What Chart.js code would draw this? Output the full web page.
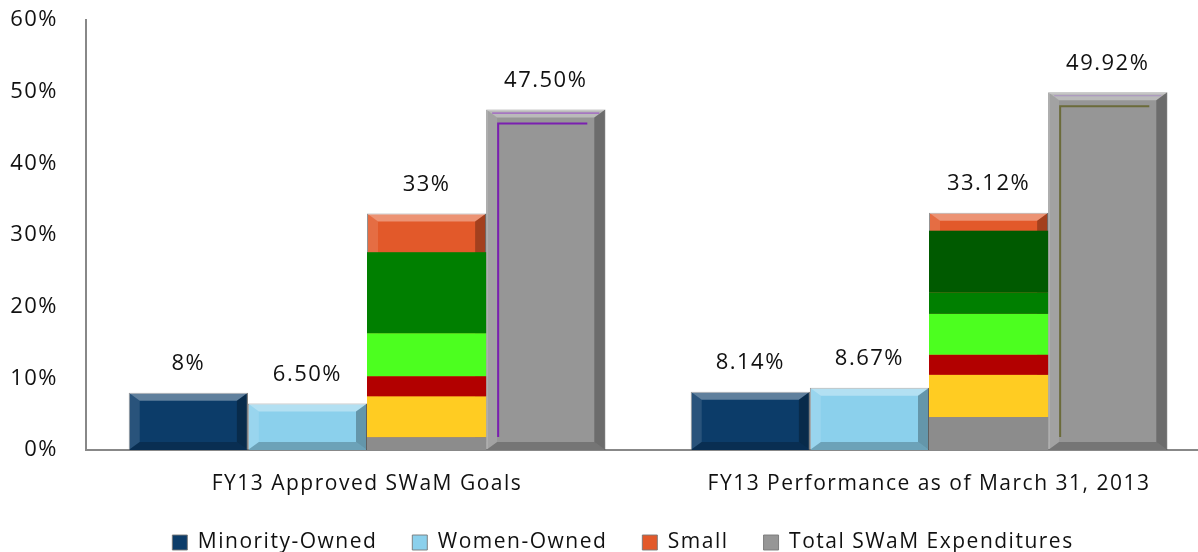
<!DOCTYPE html>
<html>
<head>
<meta charset="utf-8">
<script src="https://cdn.jsdelivr.net/npm/chart.js@4/dist/chart.umd.min.js"></script>
<style>
  html, body { margin: 0; padding: 0; background: #fff; overflow: hidden; }
  #wrap { width: 1212px; height: 563px; }
</style>
</head>
<body>
<div id="wrap"><canvas id="myChart"></canvas></div>
<script>
const categories = ['FY13 Approved SWaM Goals', 'FY13 Performance as of March 31, 2013'];
const minorityOwned = [8, 8.14];
const womenOwned = [6.5, 8.67];
const small = [33, 33.12];
const totalSwam = [47.5, 49.92];
const yTicks = [0, 10, 20, 30, 40, 50, 60];

// odd coloured bands seen inside the "Small" bars (value ranges, bottom->top)
const smallBands = [
  [[0, 1.8, '#8c8c8c'], [1.8, 7.5, '#ffcc22'], [7.5, 10.3, '#b20000'], [10.3, 16.3, '#4cff1f'], [16.3, 27.6, '#007f00']],
  [[0, 4.6, '#8c8c8c'], [4.6, 10.5, '#ffcc22'], [10.5, 13.3, '#b20000'], [13.3, 19.0, '#4cff1f'], [19.0, 22.0, '#007f00'], [22.0, 30.6, '#005a00']]
];

const fontFam = '"Open Sans", "Liberation Sans", sans-serif';

function fmt(v) {
  return Number.isInteger(v) ? v + '%' : v.toFixed(2) + '%';
}

function shade(ctx, pts, color) {
  ctx.beginPath();
  ctx.moveTo(pts[0][0], pts[0][1]);
  for (let i = 1; i < pts.length; i++) ctx.lineTo(pts[i][0], pts[i][1]);
  ctx.closePath();
  ctx.fillStyle = color;
  ctx.fill();
}

// text in the original looks a bit stretched, so open up the letters
const spacing = {
  id: 'spacing',
  beforeLayout(chart) { chart.ctx.letterSpacing = '1.5px'; },
  afterLayout(chart) {
    // legend sits a little right of centre in the original
    chart.legend.left += 18;
    chart.legend.right += 18;
  },
  beforeDraw(chart) { chart.ctx.letterSpacing = '1.5px'; }
};

const bevelPlugin = {
  id: 'bevel',
  afterDatasetsDraw(chart) {
    const ctx = chart.ctx;
    const yScale = chart.scales.y;
    chart.data.datasets.forEach((ds, di) => {
      const meta = chart.getDatasetMeta(di);
      meta.data.forEach((bar, i) => {
        const l = bar.x - bar.width / 2, r = bar.x + bar.width / 2;
        const t = bar.y, b = bar.base;
        const bx = Math.min(11, bar.width / 4), by = Math.min(8, (b - t) / 4);
        ctx.save();
        shade(ctx, [[l, t], [r, t], [r - bx, t + by], [l + bx, t + by]], 'rgba(255,255,255,0.35)');
        shade(ctx, [[l, t], [l + bx, t + by], [l + bx, b - by], [l, b]], 'rgba(255,255,255,0.12)');
        shade(ctx, [[r, t], [r, b], [r - bx, b - by], [r - bx, t + by]], 'rgba(0,0,0,0.28)');
        shade(ctx, [[l, b], [l + bx, b - by], [r - bx, b - by], [r, b]], 'rgba(0,0,0,0.22)');
        if (di === 2) {
          smallBands[i].forEach(([lo, hi, c]) => {
            const y1 = yScale.getPixelForValue(hi), y0 = yScale.getPixelForValue(lo);
            ctx.fillStyle = c;
            ctx.fillRect(l, y1, r - l, y0 - y1);
          });
        }
        if (di === 3) {
          ctx.strokeStyle = i === 0 ? '#7a1fb0' : '#6b6b3a';
          ctx.lineWidth = 2;
          ctx.beginPath();
          ctx.moveTo(l + 12, b - 13);
          ctx.lineTo(l + 12, t + 14);
          ctx.lineTo(r - 18, t + 14);
          ctx.stroke();
          ctx.lineWidth = 1;
          ctx.strokeStyle = i === 0 ? 'rgba(140,40,200,0.8)' : 'rgba(160,120,200,0.6)';
          ctx.beginPath();
          ctx.moveTo(l + 6, t + 3.5);
          ctx.lineTo(r - 6, t + 3.5);
          ctx.stroke();
        }
        ctx.restore();
      });
    });
  }
};

const valueLabels = {
  id: 'valueLabels',
  afterDatasetsDraw(chart) {
    const ctx = chart.ctx;
    ctx.save();
    ctx.font = '22px ' + fontFam;
    ctx.fillStyle = '#111';
    ctx.textAlign = 'center';
    ctx.textBaseline = 'middle';
    chart.data.datasets.forEach((ds, di) => {
      chart.getDatasetMeta(di).data.forEach((bar, i) => {
        ctx.fillText(fmt(ds.data[i]), bar.x, bar.y - 29);
      });
    });
    ctx.restore();
  }
};

const ctx = document.getElementById('myChart');
new Chart(ctx, {
  type: 'bar',
  data: {
    labels: categories,
    datasets: [
      { label: 'Minority-Owned', data: minorityOwned, backgroundColor: '#0c3c69' },
      { label: 'Women-Owned', data: womenOwned, backgroundColor: '#8bd0ec' },
      { label: 'Small', data: small, backgroundColor: '#e2592a' },
      { label: 'Total SWaM Expenditures', data: totalSwam, backgroundColor: '#969696' }
    ]
  },
  options: {
    responsive: true,
    maintainAspectRatio: false,
    animation: false,
    datasets: {
      bar: {
        categoryPercentage: 0.848,
        barPercentage: 1,
        borderColor: 'rgba(120,120,120,0.9)',
        borderWidth: 1
      }
    },
    layout: { padding: { left: 0, right: 2, top: 20, bottom: 0 } },
    plugins: {
      legend: {
        position: 'bottom',
        labels: {
          font: { family: fontFam, size: 21 },
          color: '#111',
          boxWidth: 15,
          boxHeight: 15,
          padding: 35
        }
      },
      tooltip: { enabled: false }
    },
    scales: {
      x: {
        afterFit: scale => { scale.height = 47; },
        grid: { display: false, drawTicks: false },
        border: { color: '#888', width: 2 },
        ticks: { font: { family: fontFam, size: 21 }, color: '#111', padding: 21 }
      },
      y: {
        min: 0,
        max: 60,
        afterFit: scale => {
          scale.width = 86;
          scale.paddingTop = 0;
          scale.paddingBottom = 0;
        },
        afterBuildTicks: scale => { scale.ticks = yTicks.map(v => ({ value: v })); },
        grid: { display: false, drawTicks: false },
        border: { color: '#888', width: 2 },
        ticks: { font: { family: fontFam, size: 22 }, color: '#111', padding: 28, callback: v => v + '%' }
      }
    }
  },
  plugins: [spacing, bevelPlugin, valueLabels]
});
</script>
</body>
</html>
